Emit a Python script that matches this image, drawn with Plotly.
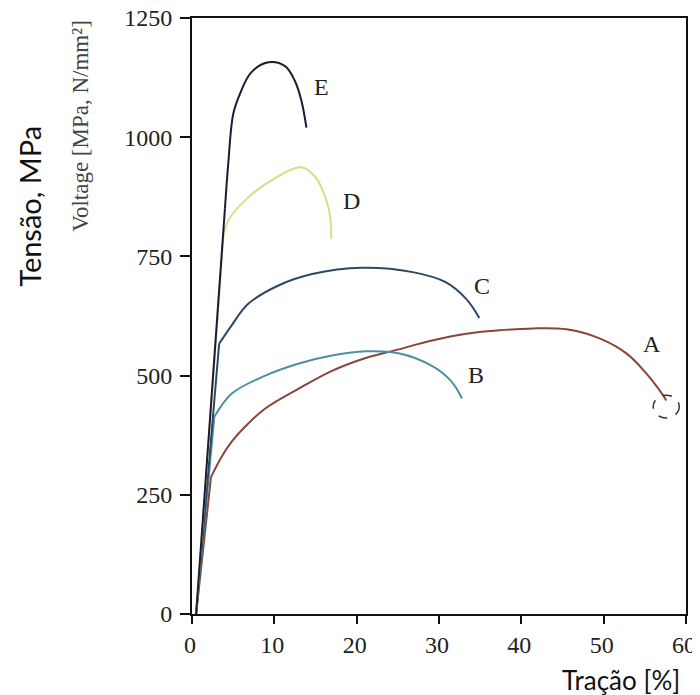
import plotly.graph_objects as go

# Stress-strain data (strain %, stress MPa); first point = origin of elastic line,
# second point = yield point, rest = plastic region
strain_A = [0.5, 2.3, 3.6, 4.8, 6.8, 8.9, 12.9, 17.0, 21.1, 25.1, 29.0, 33.3, 37.3, 41.4, 45.5, 49.5, 52.8, 55.2, 57.2, 57.6]
stress_A = [0, 287, 330, 361, 399, 431, 472, 510, 537, 555, 573, 588, 595, 599, 597, 578, 546, 504, 459, 448]

strain_B = [0.5, 2.7, 4.8, 8.9, 12.9, 17.0, 21.1, 25.1, 29.2, 31.5, 32.8]
stress_B = [0, 413, 462, 500, 525, 542, 551, 547, 520, 488, 452]

strain_C = [0.5, 3.3, 4.8, 6.8, 10.5, 14.6, 20.7, 26.8, 30.8, 33.3, 34.9]
stress_C = [0, 567, 605, 650, 689, 713, 726, 717, 696, 661, 621]

strain_D = [0.5, 3.8, 4.4, 6.4, 9.6, 13.3, 15.0, 16.2, 16.8, 16.9]
stress_D = [0, 790, 825, 867, 909, 937, 916, 874, 832, 787]

strain_E = [0.5, 4.0, 4.4, 5.0, 5.8, 7.2, 9.3, 11.3, 12.5, 13.3, 13.9]
stress_E = [0, 850, 944, 1048, 1090, 1136, 1157, 1149, 1118, 1076, 1020]

names = ["A", "B", "C", "D", "E"]
strains = [strain_A, strain_B, strain_C, strain_D, strain_E]
stresses = [stress_A, stress_B, stress_C, stress_D, stress_E]
colors = ["#874638", "#4d8fa5", "#2c4863", "#d8de84", "#1c1a36"]

# curve label positions (data coords)
label_x = [55.9, 34.5, 35.2, 19.4, 15.75]
label_y = [567, 501, 687, 866, 1105]

x_ticks = [0, 10, 20, 30, 40, 50, 60]
y_ticks = [0, 250, 500, 750, 1000, 1250]

fig = go.Figure()
for n, xs, ys, c in zip(names, strains, stresses, colors):
    fig.add_trace(go.Scatter(x=xs[:2], y=ys[:2], mode="lines",
                             line=dict(color=c, width=2), showlegend=False, hoverinfo="skip"))
    fig.add_trace(go.Scatter(x=xs[1:], y=ys[1:], mode="lines", name=n,
                             line=dict(color=c, width=2, shape="spline", smoothing=1.0),
                             showlegend=False))

for n, lx, ly in zip(names, label_x, label_y):
    fig.add_annotation(x=lx, y=ly, text=n, showarrow=False,
                       font=dict(family="Liberation Serif", size=24, color="#222"))

# dashed circle around the fracture point of A
cx, cy = 57.6, 435
fig.add_shape(type="circle", xref="x", yref="y",
              x0=cx - 1.58, x1=cx + 1.58, y0=cy - 24, y1=cy + 24,
              line=dict(color="#333", width=1.5, dash="dash"))

axis_font = dict(family="Liberation Serif", size=24, color="#222")
fig.update_xaxes(range=[0, 60], tickvals=x_ticks, ticks="outside", ticklen=8, tickwidth=2,
                 tickcolor="#111", showline=True, linewidth=2, linecolor="#111", mirror=True,
                 showgrid=False, zeroline=False, tickfont=axis_font, automargin=False,
                 ticklabelshift=-2, ticklabeloverflow="allow")
fig.update_yaxes(range=[0, 1250], tickvals=y_ticks, ticks="outside", ticklen=10, tickwidth=2,
                 tickcolor="#111", showline=True, linewidth=2, linecolor="#111", mirror=True,
                 showgrid=False, zeroline=False, tickfont=axis_font, automargin=False,
                 ticklabelstandoff=3, ticklabeloverflow="allow")

fig.add_annotation(xref="paper", yref="paper", x=-0.328, y=0.685, text="Tensão, MPa",
                   textangle=-90, showarrow=False, xanchor="center", yanchor="middle",
                   font=dict(family="Lato", size=29, color="#111"))
fig.add_annotation(xref="paper", yref="paper", x=-0.225, y=0.819, text="Voltage [MPa, N/mm²]",
                   textangle=-90, showarrow=False, xanchor="center", yanchor="middle",
                   font=dict(family="Liberation Serif", size=23, color="#444"))
fig.add_annotation(xref="paper", yref="paper", x=0.868, y=-0.110, text="Tração [%]",
                   showarrow=False, xanchor="center", yanchor="middle",
                   font=dict(family="Lato", size=26, color="#111"))

fig.update_layout(width=700, height=695, margin=dict(l=184, r=22, t=10, b=89),
                  plot_bgcolor="white", paper_bgcolor="white")
fig.write_html("out.html")
